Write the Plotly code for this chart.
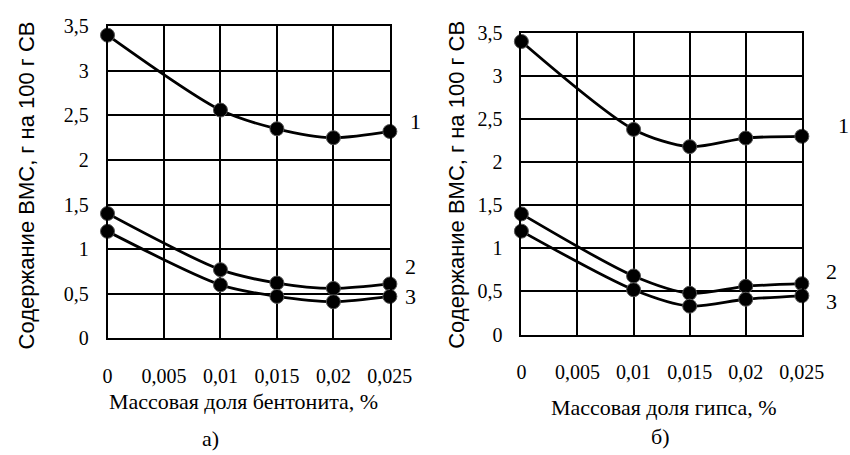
import plotly.graph_objects as go

x_vals = [0, 0.01, 0.015, 0.02, 0.025]
a_s1 = [3.4, 2.56, 2.35, 2.25, 2.32]
a_s2 = [1.4, 0.77, 0.62, 0.56, 0.61]
a_s3 = [1.2, 0.60, 0.47, 0.41, 0.47]
b_s1 = [3.4, 2.38, 2.18, 2.28, 2.30]
b_s2 = [1.4, 0.68, 0.48, 0.56, 0.59]
b_s3 = [1.2, 0.52, 0.33, 0.41, 0.45]
series_labels = ["1", "2", "3"]
x_ticks = [0, 0.005, 0.01, 0.015, 0.02, 0.025]
x_ticktext = ["0", "0,005", "0,01", "0,015", "0,02", "0,025"]
y_ticks = [0, 0.5, 1, 1.5, 2, 2.5, 3, 3.5]
y_ticktext = ["0", "0,5", "1", "1,5", "2", "2,5", "3", "3,5"]
y_title = "Содержание ВМС, г на 100 г СВ"
x_title_a = "Массовая доля бентонита, %"
x_title_b = "Массовая доля гипса, %"
captions = ["а)", "б)"]

serif = "Liberation Serif, Times New Roman, serif"
sans = "Liberation Sans, Arial, sans-serif"

fig = go.Figure()
panels = [("x", "y", [a_s1, a_s2, a_s3]), ("x2", "y2", [b_s1, b_s2, b_s3])]
for xa, ya, series in panels:
    for s in series:
        fig.add_trace(go.Scatter(
            x=x_vals, y=s, xaxis=xa, yaxis=ya, mode="lines+markers",
            line=dict(color="black", width=2.8, shape="spline", smoothing=0.8),
            marker=dict(color="black", size=14, line=dict(color="#555", width=1)),
            showlegend=False, cliponaxis=False))

def xaxis(domain, anchor):
    return dict(domain=domain, anchor=anchor, range=[0, 0.025], tickvals=x_ticks,
                ticktext=x_ticktext, showgrid=True, gridcolor="black", gridwidth=1.6,
                showline=True, linecolor="black", linewidth=1.6, mirror=True,
                zeroline=False, ticks="", ticklabelstandoff=19,
                tickfont=dict(family=serif, size=20, color="black"))

def yaxis(domain, anchor):
    return dict(domain=domain, anchor=anchor, range=[0, 3.5], tickvals=y_ticks,
                ticktext=y_ticktext, showgrid=True, gridcolor="black", gridwidth=1.6,
                showline=True, linecolor="black", linewidth=1.6, mirror=True,
                zeroline=False, ticks="", ticklabelstandoff=13,
                tickfont=dict(family=serif, size=20, color="black"))

fig.update_layout(
    width=850, height=455, margin=dict(l=0, r=0, t=0, b=0),
    paper_bgcolor="white", plot_bgcolor="white",
    xaxis=xaxis([0.1247, 0.4682], "y"),
    yaxis=yaxis([0.2440, 0.9648], "x"),
    xaxis2=xaxis([0.6282, 0.9694], "y2"),
    yaxis2=yaxis([0.2527, 0.9495], "x2"),
)

anns = []
label_shifts = {"x": [(18, 10), (13, 17), (13, 0)], "x2": [(34, 11), (22, 12), (22, -6)]}
for xr, yr, series in [("x", "y", [a_s1, a_s2, a_s3]), ("x2", "y2", [b_s1, b_s2, b_s3])]:
    for lab, s, (dx, dy) in zip(series_labels, series, label_shifts[xr]):
        anns.append(dict(x=x_vals[-1], y=s[-1], xref=xr, yref=yr, text=lab, showarrow=False,
                         xanchor="left", yanchor="middle", xshift=dx, yshift=dy,
                         font=dict(family=serif, size=22, color="black")))

def paper_text(px, py, text, font, size, angle=0):
    return dict(x=px / 850, y=1 - py / 455, xref="paper", yref="paper", text=text,
                showarrow=False, xanchor="center", yanchor="middle", textangle=angle,
                font=dict(family=font, size=size, color="black"))

anns.append(paper_text(22, 183, y_title, sans, 22, -90))
anns.append(paper_text(467, 183, y_title, sans, 22, -90))
anns.append(paper_text(247, 410, x_title_a, serif, 22))
anns.append(paper_text(681, 417, x_title_b, serif, 22))
anns.append(paper_text(213, 449, captions[0], serif, 22))
anns.append(paper_text(678, 447, captions[1], serif, 22))
fig.update_layout(annotations=anns)

fig.write_html("out.html")
